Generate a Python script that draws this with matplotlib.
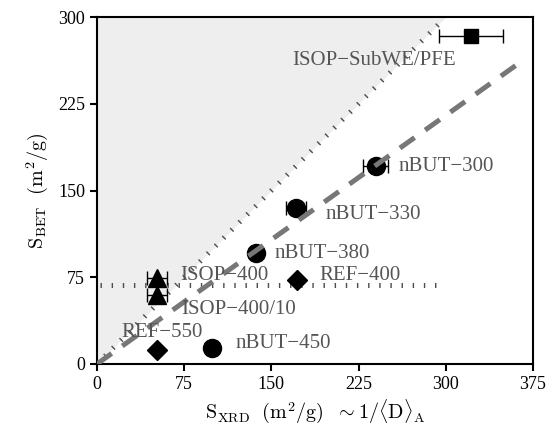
"""
S_BET vs S_XRD comparison plot (specific surface area from BET vs XRD).
"""
import matplotlib
matplotlib.use("Agg")
import matplotlib.pyplot as plt

# ---------------------------------------------------------------------------
# Data
# ---------------------------------------------------------------------------
nbut_labels = ["nBUT\u2212300", "nBUT\u2212330", "nBUT\u2212380", "nBUT\u2212450"]
nbut_x = [239.7, 171.3, 136.8, 98.9]
nbut_y = [171.0, 135.0, 96.2, 13.5]
nbut_xerr = [10.7, 8.6, 0.0, 0.0]

isop_labels = ["ISOP\u2212400", "ISOP\u2212400/10"]
isop_x = [51.4, 51.4]
isop_y = [74.0, 60.0]
isop_xerr = [8.6, 8.6]

ref_labels = ["REF\u2212400", "REF\u2212550"]
ref_x = [172.0, 51.4]
ref_y = [72.6, 12.0]

subwe_label = "ISOP\u2212SubWE/PFE"
subwe_x = [321.6]
subwe_y = [283.8]
subwe_xerr = [27.3]

# label anchor positions (left edge, vertical centre) in data units
label_pos = {
    "nBUT\u2212300": (259.5, 170.5),
    "nBUT\u2212330": (196.5, 129.6),
    "nBUT\u2212380": (152.6, 95.7),
    "nBUT\u2212450": (119.0, 17.9),
    "ISOP\u2212400": (71.6, 76.9),
    "ISOP\u2212400/10": (72.1, 46.7),
    "REF\u2212400": (191.7, 76.9),
    "REF\u2212550": (21.3, 27.0),
    "ISOP\u2212SubWE/PFE": (167.8, 262.7),
}

# guide lines
fit_x = [0, 360]
fit_y = [0, 258]
diag_x = [0, 295]
diag_y = [0, 295]
hline_x = [3, 293]
hline_y = [68, 68]
shade_x = [0, 300]

ticks = [0, 75, 150, 225, 300, 375]

# ---------------------------------------------------------------------------
# Plot
# ---------------------------------------------------------------------------
plt.rcParams["font.family"] = ["Liberation Serif", "DejaVu Serif"]
plt.rcParams["mathtext.fontset"] = "cm"

fig = plt.figure(figsize=(5.48, 4.38), dpi=100)
ax = fig.add_axes([0.177, 0.169, 0.7956, 0.792])

ax.fill_between(shade_x, shade_x, [300, 300], color="#eeeeee", lw=0, zorder=0)

dotted = dict(color="0.3", lw=3.6, ls=(0, (0.28, 1.95)),
              solid_capstyle="butt", dash_capstyle="butt", zorder=1)
ax.plot(diag_x, diag_y, **dotted)
ax.plot(hline_x, hline_y, **dotted)

eb = dict(fmt="none", ecolor="black", elinewidth=1.0, capsize=4.7,
          capthick=1.0, zorder=2)
ax.errorbar(nbut_x, nbut_y, xerr=nbut_xerr, **eb)
ax.errorbar(isop_x, isop_y, xerr=isop_xerr, **eb)
ax.errorbar(subwe_x, subwe_y, xerr=subwe_xerr, **eb)

ax.plot(nbut_x, nbut_y, "o", color="black", ms=13, zorder=3)
ax.plot(isop_x, isop_y, "^", color="black", ms=13, zorder=3)
ax.plot(ref_x, ref_y, "D", color="black", ms=10, zorder=3)
ax.plot(subwe_x, subwe_y, "s", color="black", ms=10, zorder=3)

ax.plot(fit_x, fit_y, color="#777777", lw=3.6, ls=(0, (3.6, 2.6)),
        dash_capstyle="butt", zorder=4)

for name, (lx, ly) in label_pos.items():
    ax.text(lx, ly, name, color="#555555", fontsize=15,
            ha="left", va="center", zorder=5)

ax.set_xlim(0, 375)
ax.set_ylim(0, 300)
ax.set_xticks(ticks)
ax.set_yticks(ticks[:-1])
ax.tick_params(direction="out", length=5, width=1.5, labelsize=13)
for s in ax.spines.values():
    s.set_linewidth(1.5)

ax.set_xlabel(r"$\mathrm{S}_{\mathrm{XRD}}\ \ (\mathrm{m}^2/\mathrm{g})\ \ \sim 1/\langle\mathrm{D}\rangle_{\mathrm{A}}$",
              fontsize=14.5, labelpad=3)
ax.set_ylabel(r"$\mathrm{S}_{\mathrm{BET}}\ \ (\mathrm{m}^2/\mathrm{g})$",
              fontsize=14.5, labelpad=6)

fig.savefig("out.png", dpi=100)
